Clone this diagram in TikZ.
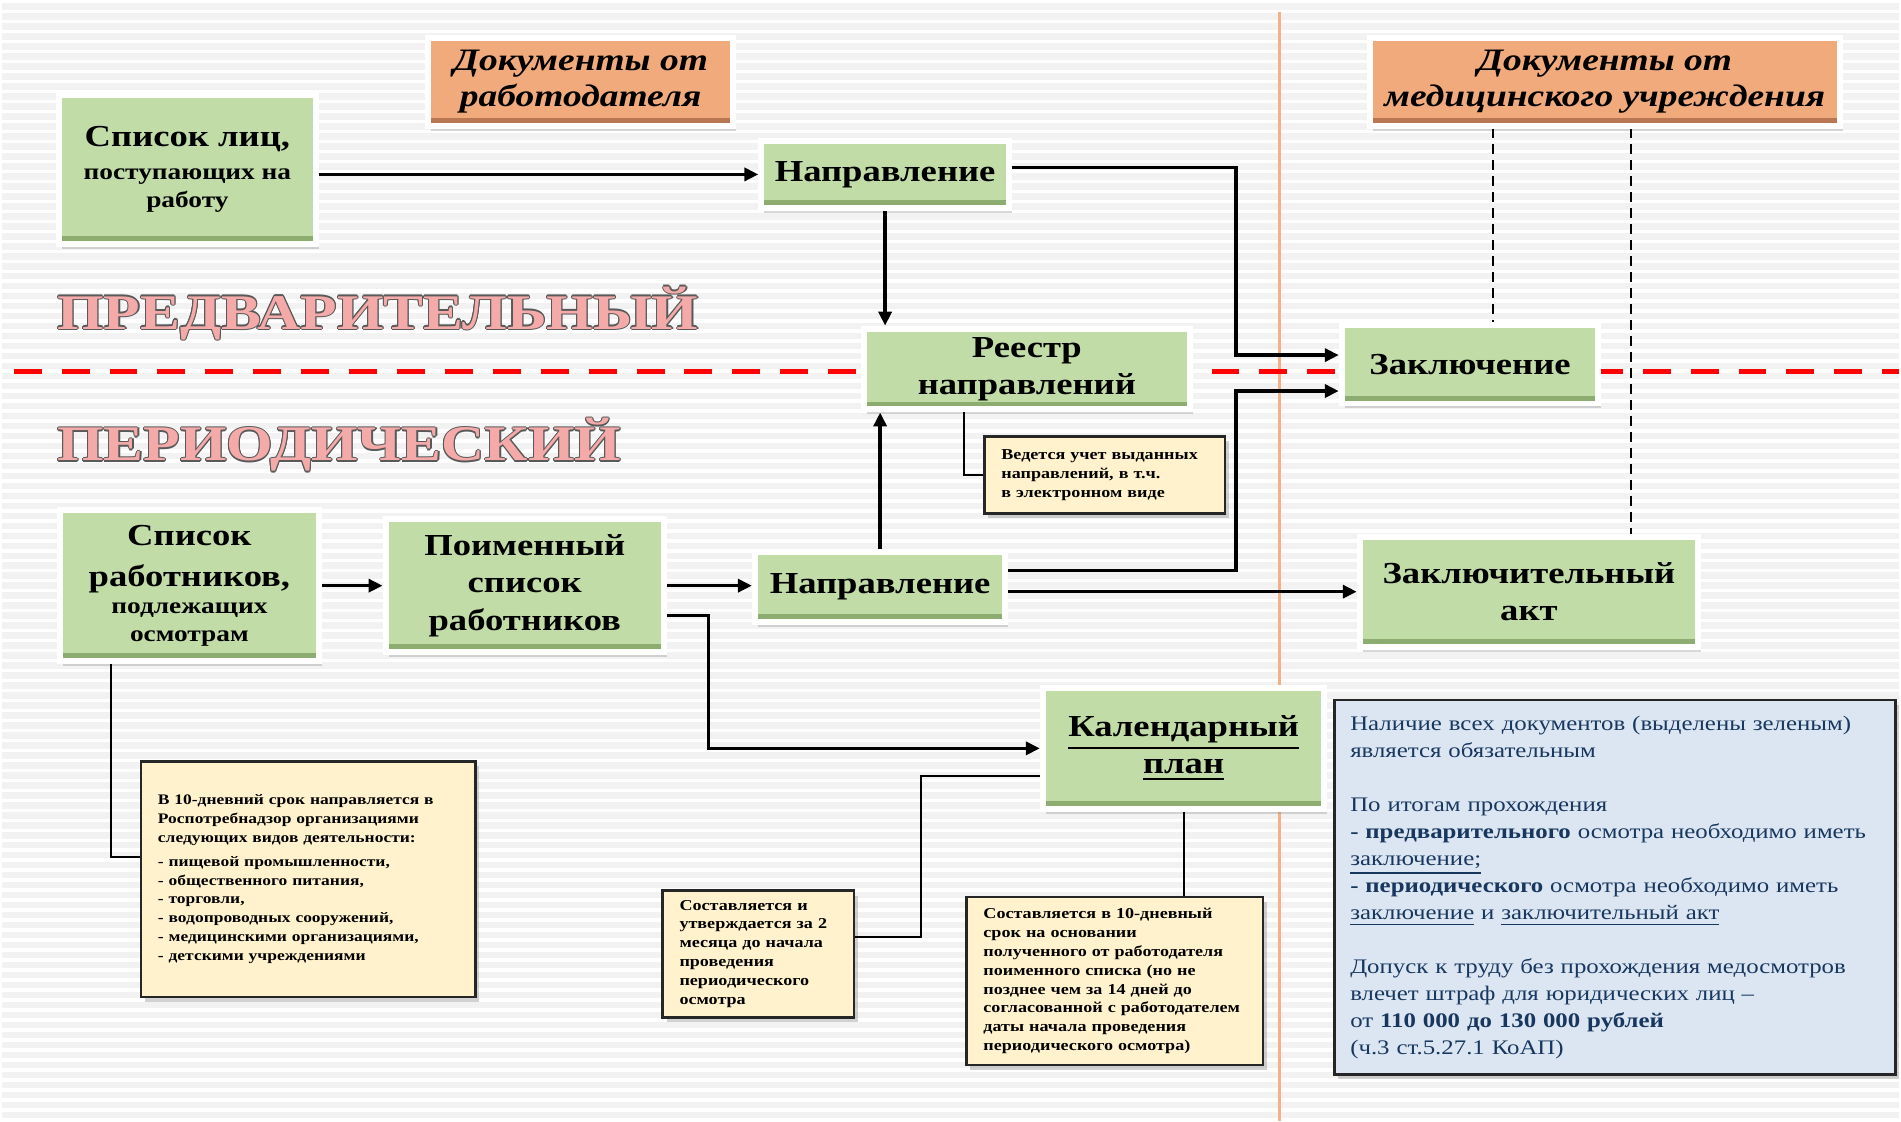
\documentclass[tikz,border=0pt]{standalone}
\usepackage{fontspec}
\setmainfont[FakeStretch=1.2]{Liberation Serif}
\usetikzlibrary{arrows.meta,calc,shadows}

\definecolor{bggray}{RGB}{242,242,242}
\definecolor{boxgreen}{RGB}{194,220,168}
\definecolor{boxgreenedge}{RGB}{140,172,112}
\definecolor{boxorange}{RGB}{240,170,124}
\definecolor{boxorangeedge}{RGB}{185,118,82}
\definecolor{notefill}{RGB}{255,242,204}
\definecolor{infofill}{RGB}{220,230,242}
\definecolor{infotext}{RGB}{23,55,94}
\definecolor{salmon}{RGB}{244,177,131}
\definecolor{wordpink}{RGB}{245,170,170}

\newcommand{\smalltxt}{\fontsize{6.5}{8}\selectfont}

\tikzset{
  greenbox/.style={draw=white, line width=0.06cm, fill=boxgreen, align=center, inner sep=0pt,
    font=\bfseries\fontsize{8.7}{10.7}\selectfont,
    drop shadow={shadow xshift=0.03cm, shadow yshift=-0.05cm, opacity=0.3},
    path picture={\fill[boxgreenedge] (path picture bounding box.south west)
      rectangle ([yshift=0.08cm]path picture bounding box.south east);}},
  orangebox/.style={greenbox, fill=boxorange,
    font=\bfseries\itshape\fontsize{8.9}{10.4}\selectfont,
    path picture={\fill[boxorangeedge] (path picture bounding box.south west)
      rectangle ([yshift=0.08cm]path picture bounding box.south east);}},
  notebox/.style={draw=black!85, line width=0.025cm, fill=notefill, align=left,
    inner xsep=0.17cm, inner ysep=0.03cm, font=\bfseries\fontsize{4.3}{5.4}\selectfont,
    drop shadow={shadow xshift=0.04cm, shadow yshift=-0.05cm, opacity=0.35}},
  infobox/.style={notebox, fill=infofill, text=infotext, inner xsep=0.16cm,
    font=\fontsize{5.9}{7.7}\selectfont},
  conn/.style={line width=0.035cm, -{Triangle[length=0.14cm,width=0.13cm]}},
  thinconn/.style={line width=0.02cm},
  dashconn/.style={line width=0.02cm, dash pattern=on 0.1cm off 0.06cm},
  reddash/.style={red, line width=0.05cm, dash pattern=on 0.28cm off 0.2cm},
  stripe/.style={white, line width=0.035cm},
  wordart/.style={font=\bfseries\fontsize{14.2}{16}\selectfont, inner sep=0pt, anchor=base west}
}

\begin{document}
\begin{tikzpicture}[x=1cm,y=-1cm]
  % background
  \fill[bggray] (0,0) rectangle (19.01,11.21);
  \foreach \i in {0,...,112}
    \draw[stripe] (0,\i*0.1) -- (19.01,\i*0.1);
  \useasboundingbox (0,0) rectangle (19.01,11.21);

  % dividers
  \draw[salmon, line width=0.03cm] (12.80,0.10) -- (12.80,11.21);
  \draw[reddash] (0.12,3.70) -- (19.01,3.70);

  % captions
  \coordinate (predpos) at (0.55,3.28);
  \coordinate (periodpos) at (0.55,4.60);
  \foreach \a in {0,45,...,315} {
    \node[wordart, text=black!65] (predo\a) at ($(predpos)+(\a:0.012)$) {ПРЕДВАРИТЕЛЬНЫЙ};
    \node[wordart, text=black!65] (periodo\a) at ($(periodpos)+(\a:0.012)$) {ПЕРИОДИЧЕСКИЙ};
  }
  \node[wordart, text=wordpink] (pred) at (predpos) {ПРЕДВАРИТЕЛЬНЫЙ};
  \node[wordart, text=wordpink] (period) at (periodpos) {ПЕРИОДИЧЕСКИЙ};

  % documents
  \node[orangebox, minimum width=3.06cm, minimum height=0.88cm] (docemp) at (5.80,0.80) {Документы от\\работодателя};
  \node[orangebox, minimum width=4.71cm, minimum height=0.88cm] (docmed) at (16.06,0.80) {Документы от\\медицинского учреждения};

  % preliminary
  \node[greenbox, minimum width=2.57cm, minimum height=1.49cm] (listnew) at (1.86,1.68)
    {Список лиц,\\[-1.4pt]{\smalltxt поступающих на}\\[-2.7pt]{\smalltxt работу}};
  \node[greenbox, minimum width=2.48cm, minimum height=0.67cm] (dirtop) at (8.85,1.73) {Направление};
  \node[greenbox, minimum width=3.27cm, minimum height=0.81cm] (registry) at (10.27,3.68) {Реестр\\направлений};
  \node[greenbox, minimum width=2.57cm, minimum height=0.79cm] (concl) at (14.71,3.63) {Заключение};
  \node[notebox, text width=2.07cm, minimum height=0.77cm] (noteregistry) at (11.05,4.74)
    {Ведется учет выданных\\направлений, в т.ч.\\в электронном виде};

  % periodic
  \node[greenbox, minimum width=2.60cm, minimum height=1.51cm] (listall) at (1.88,5.85)
    {Список\\[1pt]работников,\\[-3.1pt]{\smalltxt подлежащих}\\[-2.7pt]{\smalltxt осмотрам}};
  \node[greenbox, minimum width=2.79cm, minimum height=1.33cm] (namelist) at (5.24,5.85) {Поименный\\список\\работников};
  \node[greenbox, minimum width=2.51cm, minimum height=0.70cm] (dirbot) at (8.80,5.86) {Направление};
  \node[greenbox, minimum width=3.39cm, minimum height=1.10cm] (finalact) at (15.30,5.91) {Заключительный\\акт};
  \node[greenbox, minimum width=2.82cm, minimum height=1.21cm] (calplan) at (11.84,7.48)
    {\underline{Календарный}\\\underline{план}};

  \node[infobox, text width=5.30cm, minimum height=3.75cm] (summary) at (16.16,8.87)
    {Наличие всех документов (выделены зеленым)\\
     является обязательным\\[7.7pt]
     По итогам прохождения\\
     \textbf{- предварительного} осмотра необходимо иметь\\
     \underline{заключение;}\\
     \textbf{- периодического} осмотра необходимо иметь\\
     \underline{заключение} и \underline{заключительный акт}\\[7.7pt]
     Допуск к труду без прохождения медосмотров\\
     влечет штраф для юридических лиц –\\
     от \textbf{110 000 до 130 000 рублей}\\
     (ч.3 ст.5.27.1 КоАП)};

  \node[notebox, text width=3.01cm, minimum height=2.36cm, font=\bfseries\fontsize{4.15}{5.35}\selectfont] (noterpn) at (3.07,8.79)
    {В 10-дневний срок направляется в\\
     Роспотребнадзор организациями\\
     следующих видов деятельности:\\[1.5pt]
     - пищевой промышленности,\\
     - общественного питания,\\
     - торговли,\\
     - водопроводных сооружений,\\
     - медицинскими организациями,\\
     - детскими учреждениями};
  \node[notebox, text width=1.58cm, minimum height=1.27cm] (noteplan) at (7.58,9.54)
    {Составляется и\\утверждается за 2\\месяца до начала\\проведения\\периодического\\осмотра};
  \node[notebox, text width=2.63cm, minimum height=1.68cm] (notedue) at (11.15,9.81)
    {Составляется в 10-дневный\\срок на основании\\полученного от работодателя\\поименного списка (но не\\позднее чем за 14 дней до\\согласованной с работодателем\\даты начала проведения\\периодического осмотра)};

  % connectors
  \draw[conn] (listnew.east |- dirtop.west) -- (dirtop.west);
  \draw[conn] (dirtop.south) -- (dirtop.south |- registry.north);
  \draw[conn] ([yshift=0.07cm]dirtop.east) -| ([xshift=-1.03cm,yshift=0.09cm]concl.west) -- ([yshift=0.09cm]concl.west);
  \draw[conn] (dirbot.north) -- (dirbot.north |- registry.south);
  \draw[conn] ([yshift=0.16cm]dirbot.east) -| ([xshift=-1.03cm,yshift=-0.27cm]concl.west) -- ([yshift=-0.27cm]concl.west);
  \draw[conn] (dirbot.east |- finalact.west) -- (finalact.west);
  \draw[conn] (listall.east) -- (namelist.west);
  \draw[conn] (namelist.east) -- (namelist.east -| dirbot.west);
  \draw[conn] ([yshift=-0.30cm]namelist.east) -| ([xshift=-3.32cm]calplan.west) -- (calplan.west);

  \draw[thinconn] ([xshift=-0.79cm]listall.south) |- ([yshift=0.22cm]noterpn.west);
  \draw[thinconn] ([xshift=-0.63cm]registry.south) |- (noteregistry.west);
  \draw[thinconn] ([yshift=-0.28cm]calplan.west) -| ([xshift=0.66cm,yshift=0.17cm]noteplan.east) -- ([yshift=0.17cm]noteplan.east);
  \draw[thinconn] (calplan.south) -- (calplan.south |- notedue.north);

  \coordinate (medleft) at ([xshift=-1.12cm]docmed.south);
  \coordinate (medright) at ([xshift=0.26cm]docmed.south);
  \draw[dashconn] (medleft) -- (medleft |- concl.north);
  \draw[dashconn] (medright) -- (medright |- finalact.north);
\end{tikzpicture}
\end{document}
